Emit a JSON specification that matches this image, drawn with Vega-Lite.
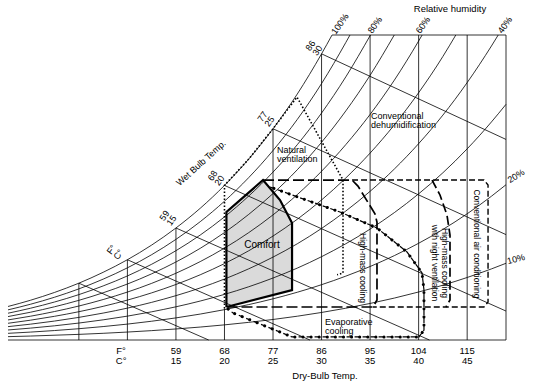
{
"$schema":"https://vega.github.io/schema/vega-lite/v6.json",
"width":498,"height":305,
"autosize":{"type":"none"},
"padding":{"left":8,"top":35,"right":28,"bottom":50},
"background":"white",
"config":{"view":{"stroke":null},"text":{"font":"Liberation Sans","fontSize":9,"color":"black"}},
"datasets":{
"rh":[
{"s":"100","T":-2.3,"w":3.187},{"s":"100","T":0,"w":3.775},{"s":"100","T":2.5,"w":4.525},{"s":"100","T":5,"w":5.403},{"s":"100","T":7.5,"w":6.436},{"s":"100","T":10,"w":7.632},{"s":"100","T":12.5,"w":9.028},{"s":"100","T":15,"w":10.65},{"s":"100","T":17.5,"w":12.524},{"s":"100","T":20,"w":14.699},{"s":"100","T":22.5,"w":17.206},{"s":"100","T":25,"w":20.086},{"s":"100","T":27.5,"w":23.388},{"s":"100","T":30,"w":27.209},{"s":"100","T":31.08,"w":29},
{"s":"90","T":-2.3,"w":2.867},{"s":"90","T":0,"w":3.395},{"s":"90","T":2.5,"w":4.069},{"s":"90","T":5,"w":4.859},{"s":"90","T":7.5,"w":5.786},{"s":"90","T":10,"w":6.861},{"s":"90","T":12.5,"w":8.113},{"s":"90","T":15,"w":9.568},{"s":"90","T":17.5,"w":11.249},{"s":"90","T":20,"w":13.198},{"s":"90","T":22.5,"w":15.443},{"s":"90","T":25,"w":18.019},{"s":"90","T":27.5,"w":20.97},{"s":"90","T":30,"w":24.382},{"s":"90","T":32.5,"w":28.29},{"s":"90","T":32.93,"w":29},
{"s":"80","T":-2.3,"w":2.547},{"s":"80","T":0,"w":3.016},{"s":"80","T":2.5,"w":3.614},{"s":"80","T":5,"w":4.315},{"s":"80","T":7.5,"w":5.139},{"s":"80","T":10,"w":6.091},{"s":"80","T":12.5,"w":7.202},{"s":"80","T":15,"w":8.491},{"s":"80","T":17.5,"w":9.979},{"s":"80","T":20,"w":11.704},{"s":"80","T":22.5,"w":13.689},{"s":"80","T":25,"w":15.966},{"s":"80","T":27.5,"w":18.571},{"s":"80","T":30,"w":21.579},{"s":"80","T":32.5,"w":25.021},{"s":"80","T":35.04,"w":29},
{"s":"70","T":-2.3,"w":2.228},{"s":"70","T":0,"w":2.637},{"s":"70","T":2.5,"w":3.161},{"s":"70","T":5,"w":3.772},{"s":"70","T":7.5,"w":4.491},{"s":"70","T":10,"w":5.322},{"s":"70","T":12.5,"w":6.293},{"s":"70","T":15,"w":7.417},{"s":"70","T":17.5,"w":8.714},{"s":"70","T":20,"w":10.217},{"s":"70","T":22.5,"w":11.945},{"s":"70","T":25,"w":13.925},{"s":"70","T":27.5,"w":16.189},{"s":"70","T":30,"w":18.8},{"s":"70","T":32.5,"w":21.783},{"s":"70","T":35,"w":25.167},{"s":"70","T":37.49,"w":29},
{"s":"60","T":-2.3,"w":1.908},{"s":"60","T":0,"w":2.259},{"s":"60","T":2.5,"w":2.707},{"s":"60","T":5,"w":3.231},{"s":"60","T":7.5,"w":3.846},{"s":"60","T":10,"w":4.557},{"s":"60","T":12.5,"w":5.386},{"s":"60","T":15,"w":6.347},{"s":"60","T":17.5,"w":7.454},{"s":"60","T":20,"w":8.737},{"s":"60","T":22.5,"w":10.21},{"s":"60","T":25,"w":11.898},{"s":"60","T":27.5,"w":13.825},{"s":"60","T":30,"w":16.045},{"s":"60","T":32.5,"w":18.579},{"s":"60","T":35,"w":21.448},{"s":"60","T":37.5,"w":24.709},{"s":"60","T":40,"w":28.429},{"s":"60","T":40.36,"w":29},
{"s":"50","T":-2.3,"w":1.59},{"s":"50","T":0,"w":1.882},{"s":"50","T":2.5,"w":2.254},{"s":"50","T":5,"w":2.69},{"s":"50","T":7.5,"w":3.202},{"s":"50","T":10,"w":3.793},{"s":"50","T":12.5,"w":4.482},{"s":"50","T":15,"w":5.28},{"s":"50","T":17.5,"w":6.2},{"s":"50","T":20,"w":7.264},{"s":"50","T":22.5,"w":8.485},{"s":"50","T":25,"w":9.884},{"s":"50","T":27.5,"w":11.479},{"s":"50","T":30,"w":13.314},{"s":"50","T":32.5,"w":15.406},{"s":"50","T":35,"w":17.771},{"s":"50","T":37.5,"w":20.456},{"s":"50","T":40,"w":23.512},{"s":"50","T":42.5,"w":26.962},{"s":"50","T":43.83,"w":29},
{"s":"40","T":-2.3,"w":1.271},{"s":"40","T":0,"w":1.505},{"s":"40","T":2.5,"w":1.802},{"s":"40","T":5,"w":2.15},{"s":"40","T":7.5,"w":2.559},{"s":"40","T":10,"w":3.031},{"s":"40","T":12.5,"w":3.58},{"s":"40","T":15,"w":4.217},{"s":"40","T":17.5,"w":4.95},{"s":"40","T":20,"w":5.797},{"s":"40","T":22.5,"w":6.77},{"s":"40","T":25,"w":7.882},{"s":"40","T":27.5,"w":9.149},{"s":"40","T":30,"w":10.606},{"s":"40","T":32.5,"w":12.264},{"s":"40","T":35,"w":14.136},{"s":"40","T":37.5,"w":16.258},{"s":"40","T":40,"w":18.669},{"s":"40","T":42.5,"w":21.384},{"s":"40","T":45,"w":24.474},{"s":"40","T":47.5,"w":27.955},{"s":"40","T":48.2,"w":29},
{"s":"30","T":-2.3,"w":0.953},{"s":"30","T":0,"w":1.128},{"s":"30","T":2.5,"w":1.35},{"s":"30","T":5,"w":1.611},{"s":"30","T":7.5,"w":1.917},{"s":"30","T":10,"w":2.27},{"s":"30","T":12.5,"w":2.681},{"s":"30","T":15,"w":3.157},{"s":"30","T":17.5,"w":3.705},{"s":"30","T":20,"w":4.338},{"s":"30","T":22.5,"w":5.063},{"s":"30","T":25,"w":5.893},{"s":"30","T":27.5,"w":6.837},{"s":"30","T":30,"w":7.92},{"s":"30","T":32.5,"w":9.153},{"s":"30","T":35,"w":10.542},{"s":"30","T":37.5,"w":12.114},{"s":"30","T":40,"w":13.897},{"s":"30","T":42.5,"w":15.901},{"s":"30","T":45,"w":18.176},{"s":"30","T":47.5,"w":20.733},{"s":"30","T":49,"w":22.409},
{"s":"20","T":-2.3,"w":0.635},{"s":"20","T":0,"w":0.751},{"s":"20","T":2.5,"w":0.9},{"s":"20","T":5,"w":1.073},{"s":"20","T":7.5,"w":1.277},{"s":"20","T":10,"w":1.512},{"s":"20","T":12.5,"w":1.785},{"s":"20","T":15,"w":2.101},{"s":"20","T":17.5,"w":2.465},{"s":"20","T":20,"w":2.885},{"s":"20","T":22.5,"w":3.367},{"s":"20","T":25,"w":3.916},{"s":"20","T":27.5,"w":4.541},{"s":"20","T":30,"w":5.258},{"s":"20","T":32.5,"w":6.072},{"s":"20","T":35,"w":6.988},{"s":"20","T":37.5,"w":8.024},{"s":"20","T":40,"w":9.197},{"s":"20","T":42.5,"w":10.512},{"s":"20","T":45,"w":12.001},{"s":"20","T":47.5,"w":13.67},{"s":"20","T":49,"w":14.762},
{"s":"10","T":-2.3,"w":0.318},{"s":"10","T":0,"w":0.375},{"s":"10","T":5,"w":0.536},{"s":"10","T":10,"w":0.755},{"s":"10","T":15,"w":1.049},{"s":"10","T":20,"w":1.439},{"s":"10","T":22.5,"w":1.678},{"s":"10","T":25,"w":1.952},{"s":"10","T":27.5,"w":2.262},{"s":"10","T":30,"w":2.618},{"s":"10","T":32.5,"w":3.021},{"s":"10","T":35,"w":3.475},{"s":"10","T":37.5,"w":3.986},{"s":"10","T":40,"w":4.564},{"s":"10","T":42.5,"w":5.212},{"s":"10","T":45,"w":5.943},{"s":"10","T":47.5,"w":6.761},{"s":"10","T":49,"w":7.294}
],
"grid":[
{"s":"v5","i":0,"T":5,"w":0},{"s":"v5","i":1,"T":5,"w":5.403},
{"s":"v10","i":0,"T":10,"w":0},{"s":"v10","i":1,"T":10,"w":7.632},
{"s":"v15","i":0,"T":15,"w":0},{"s":"v15","i":1,"T":15,"w":10.65},
{"s":"v20","i":0,"T":20,"w":0},{"s":"v20","i":1,"T":20,"w":3.0},
{"s":"v25","i":0,"T":25,"w":0},{"s":"v25","i":1,"T":25,"w":20.086},
{"s":"v30","i":0,"T":30,"w":0},{"s":"v30","i":1,"T":30,"w":27.209},
{"s":"v35","i":0,"T":35,"w":0},{"s":"v35","i":1,"T":35,"w":29},
{"s":"v40","i":0,"T":40,"w":0},{"s":"v40","i":1,"T":40,"w":29},
{"s":"v45","i":0,"T":45,"w":0},{"s":"v45","i":1,"T":45,"w":29},
{"s":"v49","i":0,"T":49,"w":0},{"s":"v49","i":1,"T":49,"w":29},
{"s":"top","i":0,"T":31.08,"w":29},{"s":"top","i":1,"T":49,"w":29},
{"s":"bot","i":0,"T":-2.3,"w":0},{"s":"bot","i":1,"T":49,"w":0},
{"s":"wb5","i":0,"T":5,"w":5.403},{"s":"wb5","i":1,"T":18.37,"w":0},
{"s":"wb10","i":0,"T":10,"w":7.632},{"s":"wb10","i":1,"T":28.8,"w":0},
{"s":"wb15","i":0,"T":15,"w":10.65},{"s":"wb15","i":1,"T":41.11,"w":0},
{"s":"wb20","i":0,"T":20,"w":14.699},{"s":"wb20","i":1,"T":49,"w":2.752},
{"s":"wb25","i":0,"T":25,"w":20.086},{"s":"wb25","i":1,"T":49,"w":10.02},
{"s":"wb30","i":0,"T":30,"w":27.209},{"s":"wb30","i":1,"T":49,"w":19.07}
],
"comfortArea":[
{"T":20.2,"w":12.17,"w2":3.14},{"T":23.97,"w":15.21,"w2":4.04},{"T":25.72,"w":13.31,"w2":4.45},{"T":26.96,"w":11.12,"w2":4.75}
],
"comfort":[
{"i":0,"T":20.2,"w":3.14},{"i":1,"T":20.2,"w":12.17},{"i":2,"T":23.97,"w":15.21},{"i":3,"T":25.72,"w":13.31},{"i":4,"T":26.96,"w":11.12},{"i":5,"T":26.96,"w":4.75},{"i":6,"T":20.2,"w":3.14}
],
"natural":[
{"i":0,"T":20,"w":3.0},{"i":1,"T":20,"w":14.699},{"i":2,"T":22.5,"w":17.206},{"i":3,"T":25,"w":20.086},{"i":4,"T":27.47,"w":23.1},{"i":5,"T":32.21,"w":15.21},{"i":6,"T":32.21,"w":6.37},{"i":7,"T":31.6,"w":6.2}
],
"highmass":[
{"i":0,"T":23.97,"w":15.21},{"i":1,"T":33.14,"w":15.21},{"i":2,"T":33.75,"w":14.64},{"i":3,"T":35.5,"w":12.0},{"i":4,"T":35.71,"w":11.2},{"i":5,"T":35.71,"w":3.8},{"i":6,"T":35.3,"w":3.14},{"i":7,"T":20.36,"w":3.14}
],
"convac":[
{"i":0,"T":33.14,"w":15.21},{"i":1,"T":46.73,"w":15.21},{"i":2,"T":47.15,"w":14.74},{"i":3,"T":47.15,"w":3.61},{"i":4,"T":46.73,"w":3.14},{"i":5,"T":35.3,"w":3.14}
],
"night":[
{"i":0,"T":41.38,"w":15.21},{"i":1,"T":42.2,"w":13.79},{"i":2,"T":42.92,"w":11.88},{"i":3,"T":43.23,"w":9.98},{"i":4,"T":43.23,"w":3.8},{"i":5,"T":42.82,"w":3.14}
],
"evap":[
{"i":0,"T":24.69,"w":14.55},{"i":1,"T":26.96,"w":13.79},{"i":2,"T":31.9,"w":12.17},{"i":3,"T":35.71,"w":10.65},{"i":4,"T":38.8,"w":8.37},{"i":5,"T":40.35,"w":6.37},{"i":6,"T":40.55,"w":4.75},{"i":7,"T":40.55,"w":0.95},{"i":8,"T":40.04,"w":0.29},{"i":9,"T":26.96,"w":0.29},{"i":10,"T":20.88,"w":2.57},{"i":11,"T":20.36,"w":2.95}
],
"labC":[
{"T":9.35,"w":-1.05,"t":"F°\nC°"},{"T":15,"w":-1.05,"t":"59\n15"},{"T":20,"w":-1.05,"t":"68\n20"},{"T":25,"w":-1.05,"t":"77\n25"},{"T":30,"w":-1.05,"t":"86\n30"},{"T":35,"w":-1.05,"t":"95\n35"},{"T":40,"w":-1.05,"t":"104\n40"},{"T":45,"w":-1.05,"t":"115\n45"},
{"T":30.35,"w":-3.42,"t":"Dry-Bulb Temp."},{"T":43.23,"w":31.47,"t":"Relative humidity"}
],
"labComfort":[{"T":23.86,"w":9.03,"t":"Comfort"}],
"labL":[
{"T":25.41,"w":18.07,"t":"Natural\nventilation"},{"T":35.09,"w":21.33,"t":"Conventional\ndehumidification"},{"T":30.35,"w":1.73,"t":"Evaporative\ncooling"}
],
"lab90":[
{"T":34.27,"w":6.85,"t":"High-mass cooling"},{"T":42.72,"w":7.32,"t":"High-mass cooling\nwith night ventilation"},{"T":46.01,"w":9.13,"t":"Conventional air conditioning"}
],
"lab55":[
{"T":31.9,"w":30.05,"t":"100%"},{"T":35.5,"w":29.95,"t":"80%"},{"T":40.45,"w":29.95,"t":"60%"},{"T":48.9,"w":29.95,"t":"40%"},
{"T":18.77,"w":15.63,"t":"68\n20"},{"T":23.92,"w":21.24,"t":"77\n25"},{"T":13.82,"w":11.83,"t":"59\n15"},{"T":8.36,"w":8.6,"t":"F°\nC°"},{"T":28.86,"w":27.99,"t":"86\n30"}
],
"labWB":[{"T":17.58,"w":16.83,"t":"Wet Bulb Temp."}],
"lab20":[{"T":50.03,"w":15.59,"t":"20%"}],
"lab10":[{"T":50.03,"w":7.7,"t":"10%"}]
},
"encoding":{
"x":{"field":"T","type":"quantitative","scale":{"domain":[-2.3,49],"nice":false,"zero":false},"axis":null},
"y":{"field":"w","type":"quantitative","scale":{"domain":[0,29],"nice":false,"zero":false},"axis":null}
},
"layer":[
{"data":{"name":"comfortArea"},"mark":{"type":"area","color":"#dadada","opacity":1},"encoding":{"y2":{"field":"w2"}}},
{"data":{"name":"rh"},"mark":{"type":"line","color":"black","strokeWidth":0.8,"interpolate":"monotone"},"encoding":{"detail":{"field":"s"}}},
{"data":{"name":"grid"},"mark":{"type":"line","color":"black","strokeWidth":0.8},"encoding":{"detail":{"field":"s"},"order":{"field":"i"}}},
{"data":{"name":"comfort"},"mark":{"type":"line","color":"black","strokeWidth":2.2},"encoding":{"order":{"field":"i"}}},
{"data":{"name":"natural"},"mark":{"type":"line","color":"black","strokeWidth":1.6,"strokeDash":[1.5,2]},"encoding":{"order":{"field":"i"}}},
{"data":{"name":"highmass"},"mark":{"type":"line","color":"black","strokeWidth":1.7,"strokeDash":[11,4]},"encoding":{"order":{"field":"i"}}},
{"data":{"name":"convac"},"mark":{"type":"line","color":"black","strokeWidth":1.4,"strokeDash":[6,3]},"encoding":{"order":{"field":"i"}}},
{"data":{"name":"night"},"mark":{"type":"line","color":"black","strokeWidth":1.7,"strokeDash":[9,4]},"encoding":{"order":{"field":"i"}}},
{"data":{"name":"evap"},"mark":{"type":"line","color":"black","strokeWidth":1.2,"strokeDash":[5,3]},"encoding":{"order":{"field":"i"}}},
{"data":{"name":"evap"},"mark":{"type":"line","color":"black","strokeWidth":3,"strokeDash":[0.1,8],"strokeCap":"round","strokeDashOffset":4},"encoding":{"order":{"field":"i"}}},
{"data":{"name":"labC"},"mark":{"type":"text","align":"center","baseline":"middle","lineBreak":"\n","lineHeight":10,"fontSize":9.5},"encoding":{"text":{"field":"t"}}},
{"data":{"name":"labComfort"},"mark":{"type":"text","align":"center","baseline":"middle","fontSize":10},"encoding":{"text":{"field":"t"}}},
{"data":{"name":"labL"},"mark":{"type":"text","align":"left","baseline":"middle","lineBreak":"\n","lineHeight":9},"encoding":{"text":{"field":"t"}}},
{"data":{"name":"lab90"},"mark":{"type":"text","align":"center","baseline":"middle","angle":90,"lineBreak":"\n","lineHeight":10,"fontSize":8.5},"encoding":{"text":{"field":"t"}}},
{"data":{"name":"lab55"},"mark":{"type":"text","align":"center","baseline":"middle","angle":-55,"lineBreak":"\n","lineHeight":8.5},"encoding":{"text":{"field":"t"}}},
{"data":{"name":"labWB"},"mark":{"type":"text","align":"center","baseline":"middle","angle":-42},"encoding":{"text":{"field":"t"}}},
{"data":{"name":"lab20"},"mark":{"type":"text","align":"center","baseline":"middle","angle":-32},"encoding":{"text":{"field":"t"}}},
{"data":{"name":"lab10"},"mark":{"type":"text","align":"center","baseline":"middle","angle":-15},"encoding":{"text":{"field":"t"}}}
]
}
